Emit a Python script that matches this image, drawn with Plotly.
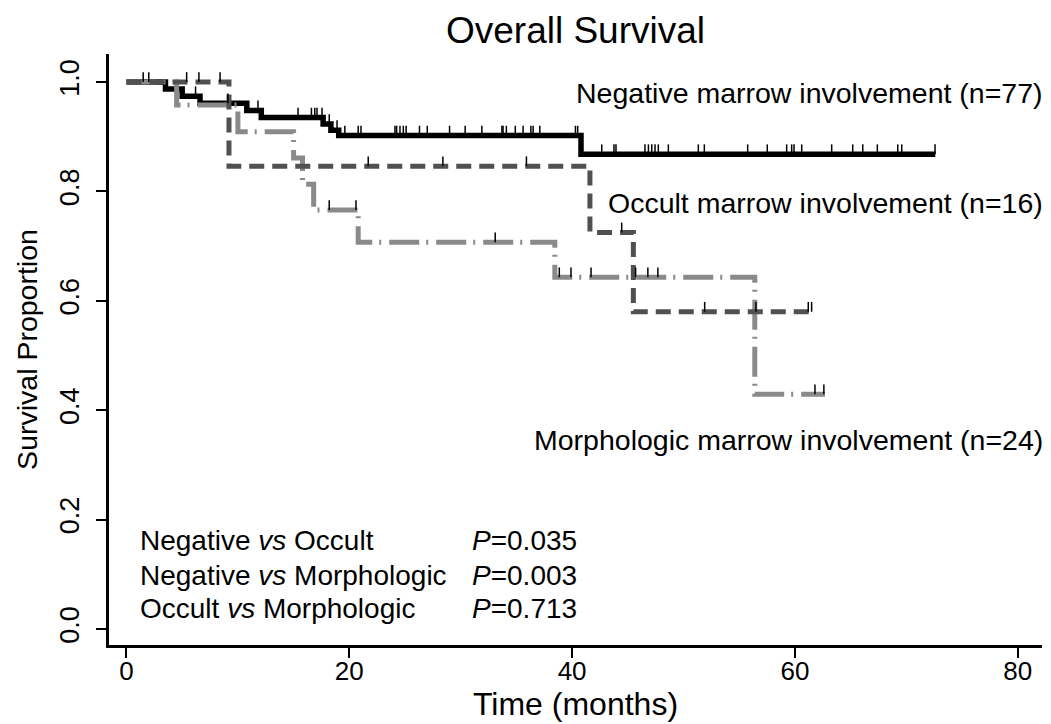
import numpy as np
import plotly.graph_objects as go

# ---------------- data ----------------
# Negative marrow involvement (n=77)
neg_event_t = [3.5, 5.0, 6.6, 10.8, 12.1, 17.65, 18.35, 19.05, 40.8]
neg_surv = [0.987, 0.974, 0.961, 0.948, 0.935, 0.923, 0.912, 0.902, 0.868]
neg_end = 72.6
neg_cens = [1.5, 2.0, 6.2, 9.1, 11.8, 15.4, 16.6, 16.9, 17.1, 17.55, 18.2, 18.9,
            19.6, 20.8, 21.05, 24.1, 24.25, 24.55, 24.85, 25.1, 26.3, 27.0, 29.0,
            30.4, 31.9, 33.7, 33.8, 34.1, 34.9, 35.6, 36.3, 36.5, 37.1, 40.3, 40.5,
            42.66, 43.76, 43.94, 46.54, 46.85, 47.15, 47.44, 47.74, 48.64, 51.33,
            51.87, 55.76, 57.52, 59.26, 59.71, 59.92, 60.61, 63.3, 65.19, 66.09,
            67.4, 69.23, 69.59, 72.58]

# Occult marrow involvement (n=16)
occ_event_t = [9.2, 41.6, 45.5]
occ_surv = [0.846, 0.725, 0.580]
occ_end = 61.6
occ_cens = [5.4, 6.5, 8.4, 21.7, 28.4, 35.9, 44.45, 51.9, 56.5, 61.2, 61.5]

# Morphologic marrow involvement (n=24)
mor_event_t = [4.5, 10.0, 15.0, 15.8, 16.8, 20.8, 38.45, 56.4]
mor_surv = [0.958, 0.909, 0.861, 0.813, 0.766, 0.707, 0.643, 0.429]
mor_end = 62.7
mor_cens = [18.2, 20.6, 33.1, 38.85, 39.9, 41.7, 45.7, 46.8, 47.7, 61.8, 62.6]

x_ticks = [0, 20, 40, 60, 80]
y_ticks = [0.0, 0.2, 0.4, 0.6, 0.8, 1.0]
y_ticklabels = ["0.0", "0.2", "0.4", "0.6", "0.8", "1.0"]

labels = ["Negative marrow involvement (n=77)",
          "Occult marrow involvement (n=16)",
          "Morphologic marrow involvement (n=24)"]
cmp_labels = ["Negative <i>vs</i> Occult",
              "Negative <i>vs</i> Morphologic",
              "Occult <i>vs</i> Morphologic"]
cmp_p = ["0.035", "0.003", "0.713"]

FONT = "Liberation Sans, Arial, Helvetica, sans-serif"
CENS_LEN = 0.018  # censor tick height (axis units)


def step_xy(t, s, end):
    x = [0.0] + list(t) + [end]
    y = [1.0] + list(s) + [s[-1]]
    return x, y


def surv_at(t_event, s, times):
    t_event = np.asarray(t_event)
    s_full = np.concatenate([[1.0], np.asarray(s)])
    idx = np.searchsorted(t_event, np.asarray(times), side="right")
    return s_full[idx]


fig = go.Figure()

series = [
    (neg_event_t, neg_surv, neg_end, neg_cens, "#000000", "solid", 5.5),
    (mor_event_t, mor_surv, mor_end, mor_cens, "#8a8a8a", "30px,7px,2px,8px", 5),
    (occ_event_t, occ_surv, occ_end, occ_cens, "#505050", "15px,8px", 5),
]

for t, s, end, cens, color, dash, w in series:
    x, y = step_xy(t, s, end)
    fig.add_trace(go.Scatter(x=x, y=y, mode="lines", line_shape="hv",
                             line=dict(color=color, width=w, dash=dash),
                             showlegend=False, hoverinfo="skip"))

for t, s, end, cens, color, dash, w in series:
    cy = surv_at(t, s, cens)
    fig.add_trace(go.Scatter(
        x=cens, y=cy, mode="markers",
        marker=dict(size=2, color="rgba(0,0,0,0)"),
        error_y=dict(type="constant", value=CENS_LEN, valueminus=0,
                     symmetric=False, color="#000000", thickness=1.5, width=0),
        showlegend=False, hoverinfo="skip"))

annotations = []
label_y = [0.934, 0.748, 0.347]
for txt, yy in zip(labels, label_y):
    annotations.append(dict(text=txt, x=1.003, y=yy, xref="paper", yref="paper",
                            xanchor="right", yanchor="middle", showarrow=False,
                            font=dict(family=FONT, size=28.5, color="black")))
cmp_y = [0.176, 0.118, 0.062]
for txt, p, yy in zip(cmp_labels, cmp_p, cmp_y):
    annotations.append(dict(text=txt, x=0.031, y=yy, xref="paper", yref="paper",
                            xanchor="left", yanchor="middle", showarrow=False,
                            font=dict(family=FONT, size=28, color="black")))
    annotations.append(dict(text="<i>P</i>=" + p, x=0.387, y=yy, xref="paper",
                            yref="paper", xanchor="left", yanchor="middle",
                            showarrow=False,
                            font=dict(family=FONT, size=28, color="black")))

fig.update_layout(
    width=1051, height=724,
    margin=dict(l=109, r=9, t=54, b=79),
    paper_bgcolor="white", plot_bgcolor="white",
    font=dict(family=FONT, color="black"),
    title=dict(text="Overall Survival", x=0.5, xref="paper", xanchor="center",
               y=0.958, yref="container", yanchor="middle",
               font=dict(family=FONT, size=37, color="black")),
    annotations=annotations,
    xaxis=dict(range=[-1.57, 82.18], tickvals=x_ticks, ticks="outside",
               ticklen=10, tickwidth=2, tickcolor="black",
               showline=True, linecolor="black", linewidth=3,
               showgrid=False, zeroline=False, ticklabelstandoff=-9,
               tickfont=dict(family=FONT, size=26, color="black"),
               title=dict(text="Time (months)", standoff=0,
                          font=dict(family=FONT, size=32, color="black"))),
    yaxis=dict(range=[-0.0293, 1.0512], tickvals=y_ticks, ticktext=y_ticklabels,
               ticks="outside", ticklen=10, tickwidth=2, tickcolor="black",
               tickangle=-90, ticklabelstandoff=6,
               showline=True, linecolor="black", linewidth=3,
               showgrid=False, zeroline=False,
               tickfont=dict(family=FONT, size=27, color="black"),
               title=dict(text="Survival Proportion", standoff=10,
                          font=dict(family=FONT, size=28.5, color="black"))),
)

fig.write_html("out.html", config={"displayModeBar": False},
               post_script="document.body.style.margin='0px';")
